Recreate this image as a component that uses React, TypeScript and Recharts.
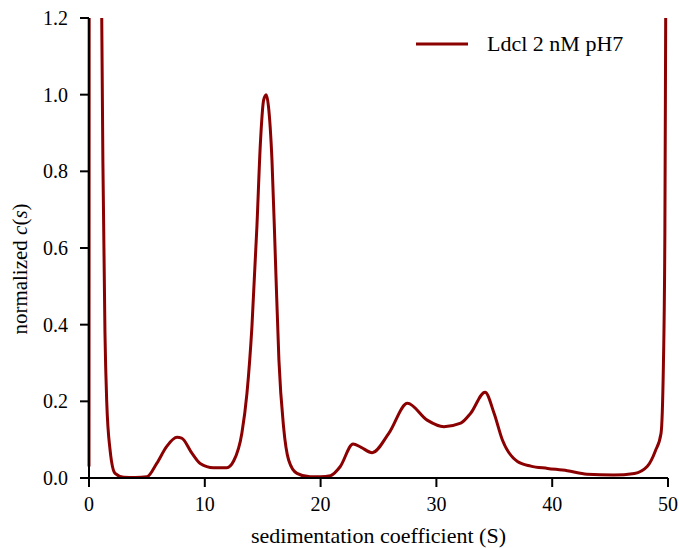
import React from "react";
import { LineChart, Line, XAxis, YAxis, Legend } from "recharts";

const sedimentation = [
  0, 0.05, 0.95, 1.1, 1.24, 1.38, 1.53, 1.82, 2.25, 3.0, 4.0, 5.0, 5.85, 6.7, 7.6, 8.0, 8.9, 9.6,
  10.75, 11.9, 12.5, 13.2, 13.64, 14.07, 14.5, 14.8, 15.08, 15.3, 15.5, 15.8, 16.1, 16.4, 16.8,
  17.24, 17.96, 19.1, 20.0, 20.85, 21.7, 22.8, 23.5, 24.45, 25.9, 27.5, 29.2, 30.65, 32.1, 32.96,
  34.2, 34.98, 35.7, 37.0, 38.15, 39.6, 41.3, 43.0, 45.3, 47.1, 48.2, 48.9, 49.4, 49.6, 49.73,
  49.8, 49.9, 50,
];
const normalizedCs = [
  0.03, 3.0, 3.0, 1.2, 0.725, 0.377, 0.2, 0.073, 0.012, 0.002, 0.001, 0.003, 0.038, 0.082, 0.106,
  0.104, 0.064, 0.038, 0.027, 0.027, 0.045, 0.117, 0.221, 0.395, 0.656, 0.873, 0.986, 1.0, 0.969,
  0.83, 0.569, 0.308, 0.134, 0.047, 0.012, 0.003, 0.003, 0.006, 0.03, 0.089, 0.08, 0.066, 0.117,
  0.195, 0.151, 0.134, 0.143, 0.169, 0.224, 0.169, 0.099, 0.043, 0.031, 0.025, 0.019, 0.01, 0.008,
  0.012, 0.03, 0.07, 0.117, 0.29, 0.64, 1.2, 2.0, 3.0,
];
const xTicks = [0, 10, 20, 30, 40, 50];
const yTicks = [0, 0.2, 0.4, 0.6, 0.8, 1.0, 1.2];
const seriesName = "Ldcl 2 nM pH7";

const data = sedimentation.map((s, i) => ({ s, c: normalizedCs[i] }));

const FONT = '"Liberation Serif", "Times New Roman", serif';
const RED = "#8b0000";

const XLabel = (props: any) => {
  const vb = props.viewBox || {};
  return (
    <text x={vb.x + vb.width / 2} y={vb.y + 65} textAnchor="middle" fontFamily={FONT} fontSize={22} fill="#000">
      sedimentation coefficient (S)
    </text>
  );
};

const YLabel = (props: any) => {
  const vb = props.viewBox || {};
  const cx = vb.x - 9;
  const cy = vb.y + vb.height / 2 + 21;
  return (
    <text
      x={cx}
      y={cy}
      transform={`rotate(-90, ${cx}, ${cy})`}
      textAnchor="middle"
      dominantBaseline="central"
      fontFamily={FONT}
      fontSize={21}
      fill="#000"
    >
      normalized <tspan fontStyle="italic">c</tspan>(<tspan fontStyle="italic">s</tspan>)
    </text>
  );
};

const LegendContent = () => (
  <div style={{ display: "flex", alignItems: "center", fontFamily: FONT, fontSize: 22, color: "#000", whiteSpace: "nowrap", lineHeight: "24px" }}>
    <svg width={52} height={4} style={{ display: "block", marginRight: 19 }}>
      <line x1={0} y1={2} x2={52} y2={2} stroke={RED} strokeWidth={3} />
    </svg>
    <span>{seriesName}</span>
  </div>
);

export default function App() {
  return (
    <div style={{ position: "absolute", left: 0, top: 0, background: "#fff" }}>
      <LineChart width={679} height={548} data={data} margin={{ top: 18, right: 11, bottom: 20, left: 29 }}>
        <XAxis
          dataKey="s"
          type="number"
          domain={[0, 50]}
          ticks={xTicks}
          height={50}
          stroke="#000"
          strokeWidth={2}
          tickSize={9}
          tickMargin={10}
          tick={{ fill: "#000", fontFamily: FONT, fontSize: 20 }}
          tickLine={{ stroke: "#000", strokeWidth: 2 }}
          label={<XLabel />}
        />
        <YAxis
          type="number"
          domain={[0, 1.2]}
          allowDataOverflow
          ticks={yTicks}
          width={60}
          stroke="#000"
          strokeWidth={2}
          tickSize={9}
          tickMargin={12}
          tickFormatter={(v: number) => v.toFixed(1)}
          tick={{ fill: "#000", fontFamily: FONT, fontSize: 20 }}
          tickLine={{ stroke: "#000", strokeWidth: 2 }}
          label={<YLabel />}
        />
        <Legend
          layout="vertical"
          align="center"
          verticalAlign="middle"
          wrapperStyle={{ position: "absolute", left: 416, top: 32, width: "auto", height: "auto" }}
          content={<LegendContent />}
        />
        <Line
          type="monotone"
          dataKey="c"
          name={seriesName}
          stroke={RED}
          strokeWidth={3}
          dot={false}
          activeDot={false}
          isAnimationActive={false}
        />
      </LineChart>
    </div>
  );
}
